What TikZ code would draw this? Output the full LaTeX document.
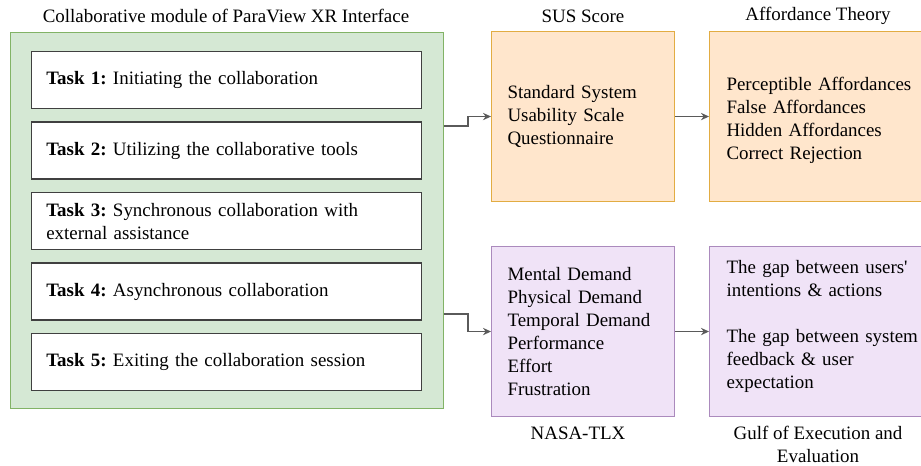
\documentclass[tikz,border=0pt]{standalone}
\usepackage{fontspec}
\setmainfont{Liberation Serif}
\usetikzlibrary{arrows.meta}

\definecolor{modfill}{HTML}{D5E8D4}
\definecolor{moddraw}{HTML}{82B366}
\definecolor{susfill}{HTML}{FFE6CC}
\definecolor{susdraw}{HTML}{E2AC42}
\definecolor{tlxfill}{HTML}{F0E3F7}
\definecolor{tlxdraw}{HTML}{AB8ABD}
\definecolor{flowgray}{HTML}{5A5A5A}

\tikzset{
  box/.style={anchor=north west, align=left, inner ysep=0pt,
    line width=0.8pt, minimum height=127.5pt},
  orangebox/.style={box, draw=susdraw, fill=susfill},
  purplebox/.style={box, draw=tlxdraw, fill=tlxfill},
  taskbox/.style={anchor=north west, align=left, draw=black!75, fill=white,
    line width=1pt, minimum height=42.75pt, inner xsep=11pt,
    text width=270.5pt},
  heading/.style={align=center},
  flow/.style={draw=flowgray, line width=0.9pt,
    -{Stealth[length=6pt,width=5.5pt]}},
}

\begin{document}
\begin{tikzpicture}[x=0.75pt, y=-0.75pt,
    every node/.append style={font=\fontsize{14.2pt}{17.25pt}\selectfont}]
  \clip (0,0) rectangle (921,466);
  \useasboundingbox (0,0) rectangle (921,466);

  % collaborative module
  \node[anchor=north west, draw=moddraw, fill=modfill, line width=0.8pt,
    minimum width=324.75pt, minimum height=282pt] (module) at (10,32) {};
  \node[heading] (modtitle) at (226,16)
    {Collaborative module of ParaView XR Interface};
  \foreach \i/\txt in {
      1/{Initiating the collaboration},
      2/{Utilizing the collaborative tools},
      3/{Synchronous collaboration with\\external assistance},
      4/{Asynchronous collaboration},
      5/{Exiting the collaboration session}}
    \node[taskbox] (task\i) at (31,{51+(\i-1)*70.5})
      {\textbf{Task~\i:}\unskip~\ignorespaces\txt};

  % measures
  \node[orangebox, inner xsep=12pt, text width=113.25pt] (sus) at (491,31)
    {Standard System\\Usability Scale\\Questionnaire};
  \node[heading] (sustitle) at (583,16) {SUS Score};

  \node[orangebox, inner xsep=12.75pt, text width=144pt] (aff) at (709,31)
    {\mbox{}\\[-2.25pt]Perceptible Affordances\\False Affordances\\Hidden Affordances\\Correct Rejection};
  \node[heading] (afftitle) at (818,16) {Affordance Theory};

  \node[purplebox, inner xsep=12pt, text width=113.25pt] (nasa) at (491,246)
    {Mental Demand\\Physical Demand\\Temporal Demand\\Performance\\Effort\\Frustration};
  \node[heading] (nasatitle) at (578,433) {NASA-TLX};

  \node[purplebox, inner xsep=12.75pt, text width=144pt] (gulf) at (709,246)
    {The gap between users\textquotesingle\\intentions \& actions\\[17.25pt]The gap between system\\feedback \& user\\expectation\\[-6.75pt]\mbox{}};
  \node[heading] (gulftitle) at (818,444.5) {Gulf of Execution and\\Evaluation};

  % connectors
  \draw[flow] (module.east |- 0,126) -- ++(24,0) |- (sus.west);
  \draw[flow] (module.east |- 0,314) -- ++(24,0) |- (nasa.west);
  \draw[flow] (sus.east) -- (aff.west |- sus.east);
  \draw[flow] (nasa.east) -- (gulf.west |- nasa.east);

\end{tikzpicture}
\end{document}
